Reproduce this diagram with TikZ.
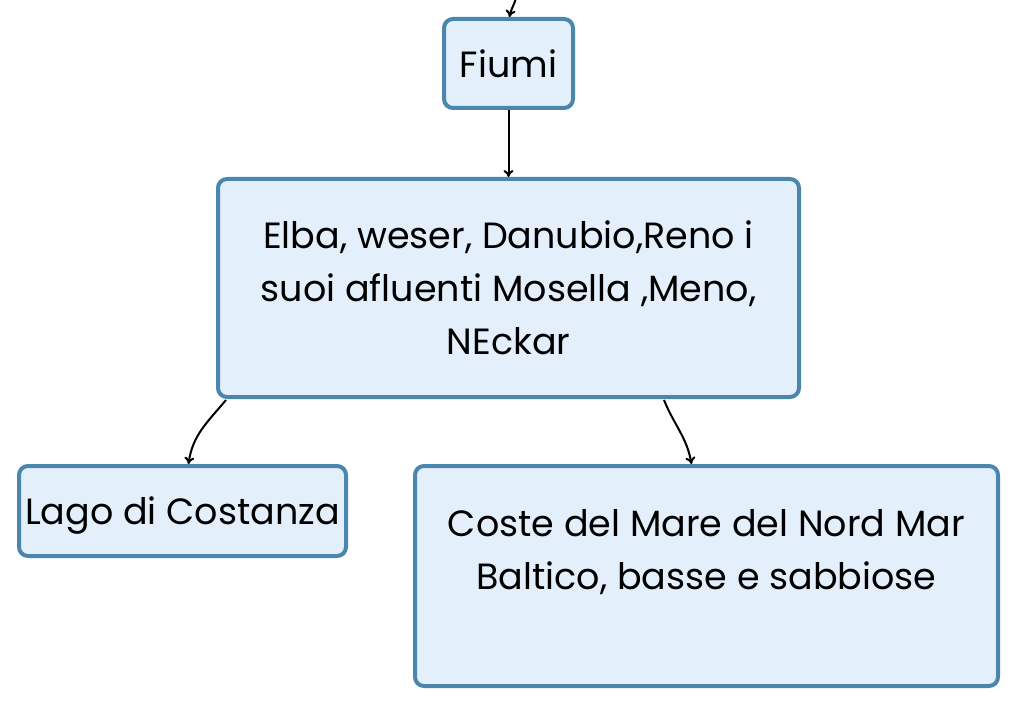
\documentclass[tikz,border=0pt]{standalone}
\usepackage{fontspec}
\setmainfont{Poppins}
\usetikzlibrary{arrows.meta,calc}
\definecolor{boxfill}{HTML}{E3F0FB}
\definecolor{boxline}{HTML}{4A86AE}
\tikzset{
  mapbox/.style={draw=boxline, fill=boxfill, line width=4pt, rounded corners=9pt,
    align=center, inner sep=0pt, font=\fontsize{36.5}{53}\selectfont},
  link/.style={draw=black, line width=2pt, -{To[length=7pt,width=10pt]}}
}
\begin{document}
\begin{tikzpicture}[x=1pt,y=-1pt]
\useasboundingbox (0,0) rectangle (1018,706);
\node[mapbox, minimum width=129pt, minimum height=89pt] (fiumi) at (508.5,63.5) {Fiumi};
\node[mapbox, minimum width=581pt, minimum height=218pt] (elba) at (508.5,288)
  {Elba, weser, Danubio,Reno i\\suoi afluenti Mosella ,Meno,\\NEckar};
\node[mapbox, minimum width=327pt, minimum height=90pt, text height=36pt, text depth=9pt] (lago) at (182.5,511) {Lago di Costanza};
\node[mapbox, minimum width=583pt, minimum height=220pt] (coste) at (706.5,576)
  {Coste del Mare del Nord Mar\\Baltico, basse e sabbiose\\\vphantom{B}};
\coordinate (src) at (516,-2);
\draw[link] (src) to[out=-105,in=80] ([xshift=1pt]fiumi.north);
\draw[link] (fiumi.south) -- (elba.north);
\draw[link] ([xshift=10pt,yshift=-1pt]elba.south west) to[out=-130,in=82] ([xshift=6pt]lago.north);
\draw[link] ([xshift=-137pt,yshift=-1pt]elba.south east) to[out=-68,in=100] ([xshift=-15pt]coste.north);
\end{tikzpicture}
\end{document}
